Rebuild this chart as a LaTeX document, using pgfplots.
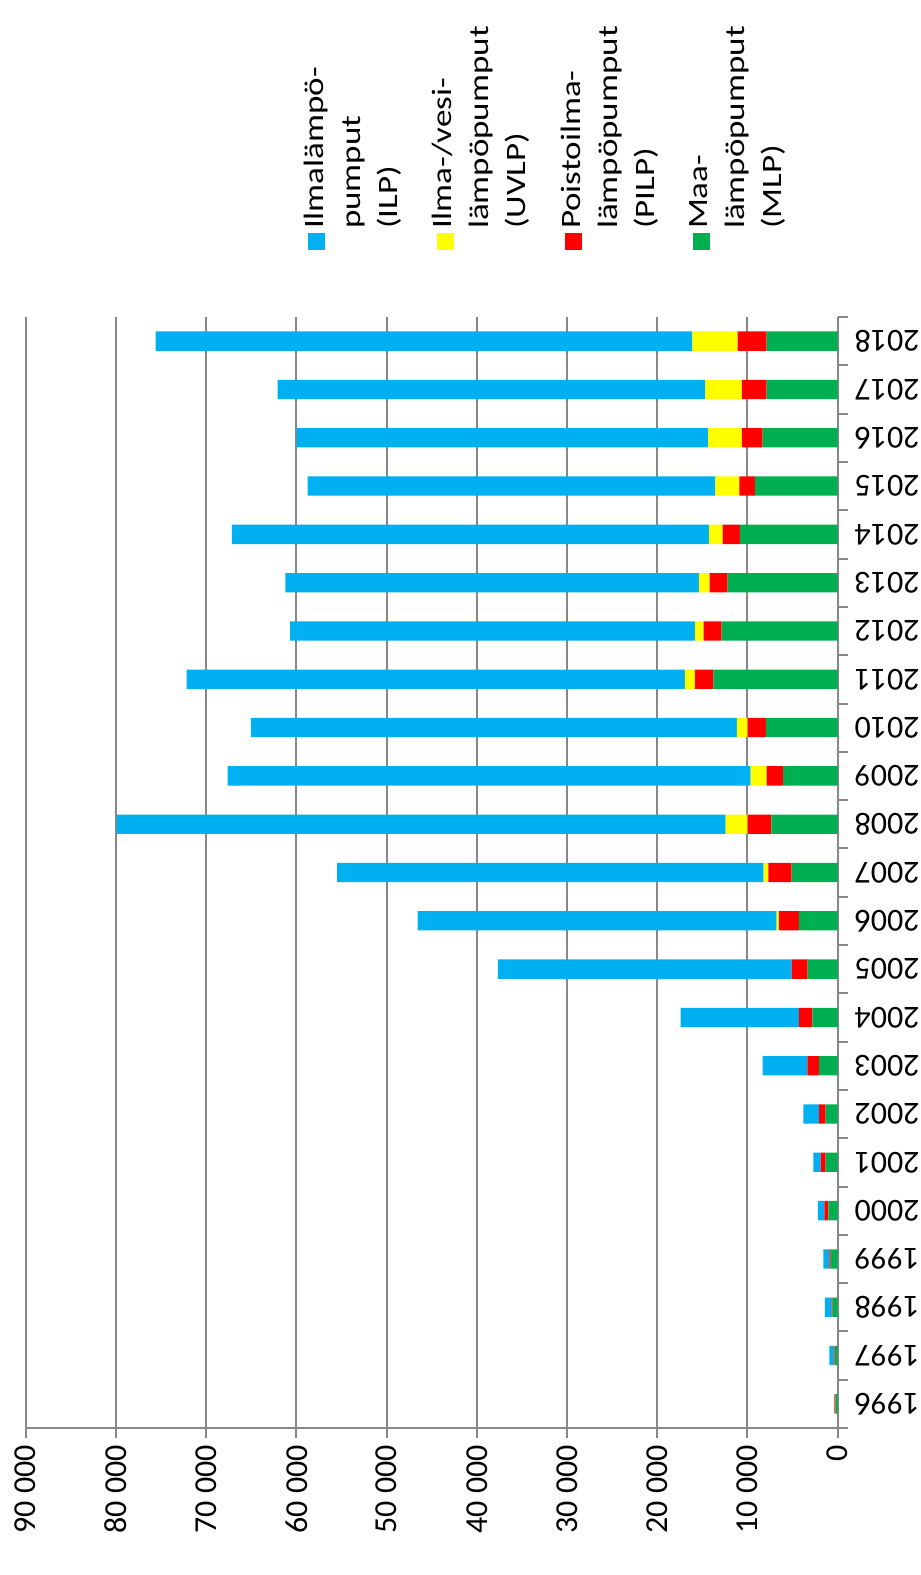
\documentclass[border=0pt]{standalone}
\usepackage{fontspec}
\setmainfont{Carlito}
\newfontfamily\legfont[FakeStretch=1.25]{Carlito}
\usepackage{graphicx}
\usepackage{pgfplots}
\pgfplotsset{compat=1.18}
\usepackage{pgfplotstable}

\definecolor{ilp}{HTML}{00B0F0}
\definecolor{uvlp}{HTML}{FFFF00}
\definecolor{pilp}{HTML}{FF0000}
\definecolor{mlp}{HTML}{00B050}
\definecolor{gridgray}{HTML}{878787}

% heat pump sales per year, by type
\pgfplotstableread{
year mlp   pilp uvlp ilp
1996 250   120  0    0
1997 330   110  0    490
1998 550   110  0    750
1999 780   150  0    670
2000 1040  440  0    730
2001 1330  550  0    820
2002 1330  740  0    1740
2003 2070  1300 0    4940
2004 2820  1470 0    13120
2005 3330  1770 0    32560
2006 4290  2220 250  39800
2007 5100  2590 510  47270
2008 7360  2620 2440 67510
2009 6060  1810 1770 57980
2010 7950  2030 1190 53880
2011 13790 2030 1110 55240
2012 12860 2000 960  44870
2013 12200 2000 1190 45820
2014 10830 1920 1520 52880
2015 9170  1740 2660 45190
2016 8320  2290 3740 45630
2017 7870  2740 4070 47400
2018 7870  3220 5030 59490
}\sales

\begin{document}
\rotatebox{90}{%
\begin{tikzpicture}
\begin{axis}[
    at={(0,0)}, anchor=south west,
    scale only axis,
    width=555.5pt, height=406pt,
    ybar stacked, bar width=0.4,
    xmin=1995.5, xmax=2018.5,
    ymin=0, ymax=90000,
    xtick={1996,...,2018},
    minor xtick={1995.5,1996.5,...,2018.5},
    ytick={0,10000,...,90000},
    scaled y ticks=false,
    ymajorgrids,
    grid style={gridgray, line width=1pt},
    axis x line*=bottom, axis y line*=left,
    axis line style={gridgray, line width=1pt},
    tick align=outside,
    major tick length=5pt, minor tick length=5pt,
    major x tick style={draw=none},
    minor x tick style={gridgray, line width=1pt},
    ytick style={gridgray, line width=1pt},
    /pgf/number format/assume math mode=true,
    /pgf/number format/1000 sep={\ },
    xticklabel style={rotate=90, anchor=east,
        /pgf/number format/1000 sep={},
        font=\fontsize{16}{19}\selectfont},
    yticklabel style={font=\fontsize{16}{19}\selectfont},
    legend cell align=left,
    reverse legend,
    legend image code/.code={\fill[#1] (0pt,13.25pt) rectangle (8.5pt,21.75pt);},
    legend style={at={(1.06,0.663)}, anchor=north west,
        draw=none, fill=none, inner sep=0pt, row sep=12pt,
        font=\legfont\fontsize{14}{18.5}\selectfont,
        cells={align=left}},
]
\addplot[fill=mlp, draw=none] table[x=year, y=mlp] {\sales};
\addlegendentry{Maa-\\lämpöpumput\\(MLP)}
\addplot[fill=pilp, draw=none] table[x=year, y=pilp] {\sales};
\addlegendentry{Poistoilma-\\lämpöpumput\\(PILP)}
\addplot[fill=uvlp, draw=none] table[x=year, y=uvlp] {\sales};
\addlegendentry{Ilma-/vesi-\\lämpöpumput\\(UVLP)}
\addplot[fill=ilp, draw=none] table[x=year, y=ilp] {\sales};
\addlegendentry{Ilmalämpö-\\pumput\\(ILP)}
\end{axis}
\pgfresetboundingbox
\path (-73.5pt,-41.65pt) rectangle (714pt,418.85pt);
\end{tikzpicture}}
\end{document}
